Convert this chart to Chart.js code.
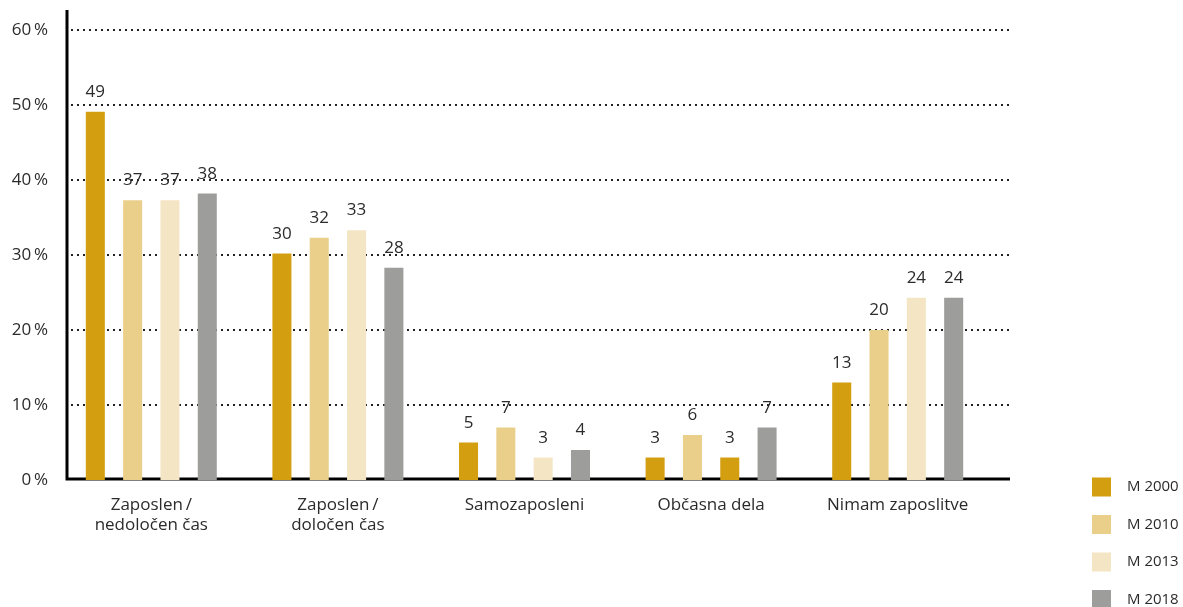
<!DOCTYPE html>
<html>
<head>
<meta charset="utf-8">
<script src="https://cdn.jsdelivr.net/npm/chart.js@4"></script>
<style>
  html, body { margin: 0; padding: 0; background: #fff; }
  #wrap { width: 1183px; height: 607px; }
</style>
</head>
<body>
<div id="wrap"><canvas id="myChart"></canvas></div>
<script>
  const categories = [
    ['Zaposlen\u2009/', 'nedoločen čas'],
    ['Zaposlen\u2009/', 'določen čas'],
    'Samozaposleni',
    'Občasna dela',
    'Nimam zaposlitve'
  ];
  const seriesNames = ['M 2000', 'M 2010', 'M 2013', 'M 2018'];
  const m2000 = [49.1, 30.2, 5, 3, 13];
  const m2010 = [37.3, 32.3, 7, 6, 20];
  const m2013 = [37.3, 33.3, 3, 3, 24.3];
  const m2018 = [38.2, 28.3, 4, 7, 24.3];
  const yTicks = [0, 10, 20, 30, 40, 50, 60];

  const gold = '#d39e10';
  const sand = '#eacf8a';
  const cream = '#f4e6c4';
  const grey = '#9d9d9c';
  const textColor = '#2b2b2b';
  const font = '"Open Sans", "Noto Sans", sans-serif';

  // dotted grid + black axes under the bars, value labels and legend on top
  const axesPlugin = {
    id: 'axes',
    beforeDatasetsDraw(chart) {
      const { ctx, chartArea } = chart;
      const y = chart.scales.y;
      const x0 = chartArea.left + 9;
      const x1 = chartArea.right + 19;
      ctx.save();
      ctx.strokeStyle = '#222';
      ctx.lineWidth = 2;
      ctx.setLineDash([2, 4]);
      yTicks.slice(1).forEach(v => {
        const py = Math.round(y.getPixelForValue(v));
        ctx.beginPath();
        ctx.moveTo(x0 + 4, py);
        ctx.lineTo(x1, py);
        ctx.stroke();
      });
      ctx.setLineDash([]);
      ctx.strokeStyle = '#000';
      ctx.lineWidth = 3;
      const base = y.getPixelForValue(0) - 1;
      ctx.beginPath();
      ctx.moveTo(x0, chartArea.top - 20);
      ctx.lineTo(x0, base);
      ctx.lineTo(x1, base);
      ctx.stroke();
      ctx.restore();
    },
    afterDatasetsDraw(chart) {
      const { ctx } = chart;
      ctx.save();
      ctx.fillStyle = textColor;
      ctx.font = '17px ' + font;
      ctx.textAlign = 'center';
      ctx.textBaseline = 'alphabetic';
      chart.data.datasets.forEach((ds, i) => {
        chart.getDatasetMeta(i).data.forEach((bar, j) => {
          ctx.fillText(String(Math.round(ds.data[j])), bar.x, bar.y - 15);
        });
      });
      // legend, stacked at the bottom right
      ctx.font = '15px ' + font;
      ctx.textAlign = 'left';
      ctx.textBaseline = 'middle';
      chart.data.datasets.forEach((ds, i) => {
        const cy = chart.height - 120 + i * 37.5;
        ctx.fillStyle = ds.legendColor;
        ctx.fillRect(chart.width - 91, cy - 9.5, 19, 19);
        ctx.fillStyle = textColor;
        ctx.fillText(ds.label, chart.width - 56, cy);
      });
      ctx.restore();
    }
  };

  const colors = [gold, sand, cream, grey];
  const values = [m2000, m2010, m2013, m2018];

  new Chart(document.getElementById('myChart'), {
    type: 'bar',
    data: {
      labels: categories,
      datasets: seriesNames.map((name, i) => ({
        label: name,
        data: values[i],
        legendColor: colors[i],
        // the 2013 bar for "Občasna dela" is drawn in the 2000 colour in the original
        backgroundColor: i === 2 ? (c => c.dataIndex === 3 ? gold : cream) : colors[i],
        borderWidth: 0,
        categoryPercentage: 0.8,
        barPercentage: 0.51
      }))
    },
    options: {
      responsive: true,
      maintainAspectRatio: false,
      animation: false,
      layout: { padding: { top: 30, right: 192, left: 0, bottom: 0 } },
      plugins: {
        legend: { display: false },
        tooltip: { enabled: false }
      },
      scales: {
        x: {
          grid: { display: false, drawTicks: false },
          border: { display: false },
          ticks: {
            color: textColor,
            font: { family: font, size: 17, lineHeight: 1.2 },
            padding: 15,
            maxRotation: 0,
            autoSkip: false
          },
          afterFit(scale) { scale.height = 127; }
        },
        y: {
          min: 0,
          max: 60,
          grid: { display: false, drawTicks: false },
          border: { display: false },
          ticks: {
            stepSize: 10,
            color: textColor,
            font: { family: font, size: 17 },
            padding: 10,
            callback: v => v + '\u2009%'
          },
          afterFit(scale) { scale.width = 58; }
        }
      }
    },
    plugins: [axesPlugin]
  });
</script>
</body>
</html>
